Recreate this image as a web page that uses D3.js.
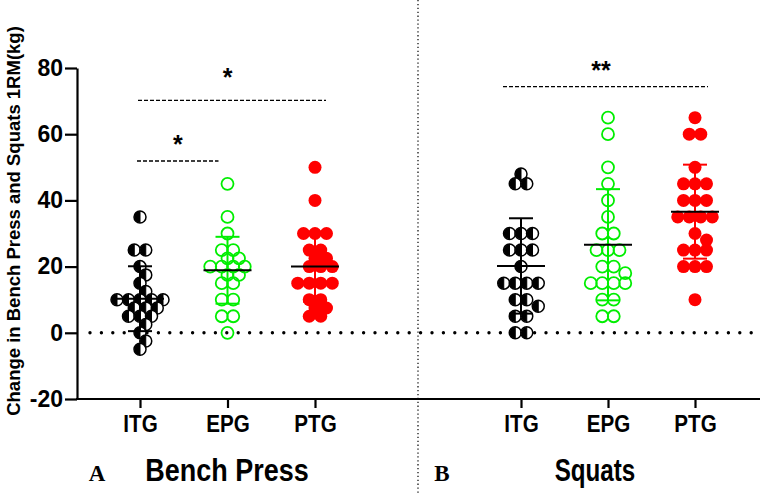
<!DOCTYPE html>
<html><head><meta charset="utf-8">
<script src="https://cdn.jsdelivr.net/npm/d3@7"></script>
<style>
body{margin:0;background:#fff}
svg{display:block}
text{font-family:"Liberation Sans",Arial,sans-serif;font-weight:bold;fill:#000}
</style>
</head><body>
<svg id="c" width="762" height="493"></svg>
<script>
// ---------- data ----------
const groups = ["ITG", "EPG", "PTG"];
const panels = ["Bench Press", "Squats"];
const panelLetters = ["A", "B"];
const yTicks = [-20, 0, 20, 40, 60, 80];
const yTitle = "Change in Bench Press and Squats 1RM(kg)";

const benchITG = [35, 25, 25, 20, 17.5, 15, 12.5, 10, 10, 10, 10, 10, 7.5, 7.5, 7.5, 5, 5, 5, 2.5, 0, -2.5, -5];
const benchEPG = [45, 35, 30, 25, 25, 22.5, 22.5, 20, 20, 20, 20, 17.5, 17.5, 15, 15, 10, 10, 5, 5, 0];
const benchPTG = [50, 40, 30, 30, 30, 25, 25, 22.5, 22.5, 20, 20, 20, 15, 15, 15, 15, 10, 10, 7.5, 7.5, 5, 5];
const squatITG = [48, 45, 45, 30, 30, 30, 25, 25, 25, 20, 15, 15, 15, 15, 10, 10, 8, 5, 5, 0, 0];
const squatEPG = [65, 60, 50, 45, 40, 35, 30, 30, 25, 25, 25, 20, 20, 18, 15, 15, 15, 15, 10, 10, 5, 5];
const squatPTG = [65, 60, 60, 50, 45, 45, 45, 40, 40, 40, 35, 35, 35, 35, 30, 28, 25, 25, 25, 20, 20, 20, 10];

const benchMean = [10.3, 18.9, 20.0];
const benchSD   = [9.8, 10.1, 10.6];
const squatMean = [20.2, 26.6, 36.6];
const squatSD   = [14.4, 16.8, 14.2];

// significance: panel, from, to, value (y of line), label
const sigPanel = [0, 0, 1];
const sigFrom  = ["ITG", "ITG", "ITG"];
const sigTo    = ["PTG", "EPG", "PTG"];
const sigValue = [70.2, 51.9, 74.4];
const sigLabel = ["*", "*", "**"];

// ---------- layout ----------
const svg = d3.select("#c");
const colors = {ITG: "#000", EPG: "#00ee00", PTG: "#ff0000"};
const y = d3.scaleLinear().domain([-20, 80]).range([399, 68]);
const xScales = [
  d3.scalePoint().domain(groups).range([140, 315]),
  d3.scalePoint().domain(groups).range([521, 695])
];
const axisX = 77, R = 6;

// vertical dotted divider
svg.append("line").attr("x1", 418).attr("x2", 418).attr("y1", 0).attr("y2", 493)
  .attr("stroke", "#000").attr("stroke-width", 1.2).attr("stroke-dasharray", "1.3,2.6");

// zero dotted line
svg.append("line").attr("x1", 90).attr("x2", 758).attr("y1", y(0)).attr("y2", y(0))
  .attr("stroke", "#000").attr("stroke-width", 3.4).attr("stroke-linecap", "round")
  .attr("stroke-dasharray", "0,11.4");

// y axis
const yAxis = svg.append("g").attr("transform", `translate(${axisX},0)`)
  .call(d3.axisLeft(y).tickValues(yTicks).tickFormat(d => String(d)).tickSize(12).tickSizeOuter(0).tickPadding(2));
yAxis.select(".domain").attr("stroke-width", 2.2);
yAxis.selectAll(".tick line").attr("stroke-width", 2.2);
yAxis.selectAll(".tick text").style("font-size", "23px").style("font-family", "'Liberation Sans',Arial,sans-serif").style("font-weight", "bold");

// x axis line
svg.append("line").attr("x1", axisX - 1).attr("x2", 760).attr("y1", y(-20)).attr("y2", y(-20))
  .attr("stroke", "#000").attr("stroke-width", 2.2);
xScales.forEach(xs => {
  const g = svg.append("g").attr("transform", `translate(0,${y(-20)})`)
    .call(d3.axisBottom(xs).tickSize(9).tickSizeOuter(0).tickPadding(7));
  g.select(".domain").remove();
  g.selectAll(".tick line").attr("stroke-width", 2.2);
  g.selectAll(".tick text").style("font-size", "24px").style("font-family", "'Liberation Sans',Arial,sans-serif")
    .style("font-weight", "bold").attr("dy", "0.71em").attr("transform", "scale(0.86,1)");
});

// y title
svg.append("text").attr("transform", "translate(20,221) rotate(-90)")
  .attr("text-anchor", "middle").style("font-size", "18.5px").text(yTitle);

// panel names and letters
const panelNameX = [227, 595];
const letterX = [97, 442];
const panelScale = [0.87, 0.78];
panels.forEach((p, i) => {
  svg.append("text").attr("transform", `translate(${panelNameX[i]},481) scale(${panelScale[i]},1)`)
    .attr("text-anchor", "middle").style("font-size", "31px").text(p);
  svg.append("text").attr("transform", `translate(${letterX[i]},481)`)
    .attr("text-anchor", "middle").style("font-family", "'Liberation Serif','Times New Roman',serif")
    .style("font-size", "23px").text(panelLetters[i]);
});

// beeswarm placement
function swarm(vals, cx, step, minD) {
  const sorted = vals.slice().sort((a, b) => b - a);
  const ties = d3.groups(sorted, v => v);
  const placed = [];
  for (const [v, arr] of ties) {
    const n = arr.length, yy = y(v);
    const base = d3.range(n).map(i => (i - (n - 1) / 2) * step);
    let best = 0, bestScore = Infinity;
    for (const k of [0, 1, -1, 2, -2, 3, -3, 4, -4]) {
      const shift = k * step / 2;
      let ov = 0;
      for (const b of base) for (const p of placed) {
        const d = Math.hypot(p.x - (cx + b + shift), p.y - yy);
        if (d < minD) ov += (minD - d);
      }
      const score = ov * 10 + Math.abs(shift) * 0.01;
      if (score < bestScore) { bestScore = score; best = shift; }
    }
    base.forEach(b => placed.push({v, x: cx + b + best, y: yy}));
  }
  return placed;
}

const seriesData = [[benchITG, benchEPG, benchPTG], [squatITG, squatEPG, squatPTG]];
const means = [benchMean, squatMean], sds = [benchSD, squatSD];
const halfArc = d3.arc().innerRadius(0).outerRadius(R - 0.2).startAngle(Math.PI).endAngle(2 * Math.PI);

seriesData.forEach((set, pi) => {
  const xs = xScales[pi];
  set.forEach((vals, gi) => {
    const grp = groups[gi];
    const pts = swarm(vals, xs(grp), 11.5, 9);
    const g = svg.append("g");
    const pg = g.selectAll("g.pt").data(pts).join("g").attr("class", "pt")
      .attr("transform", d => `translate(${d.x},${d.y})`);
    if (grp === "ITG") {
      pg.append("circle").attr("r", R).attr("fill", "#fff").attr("stroke", "#000").attr("stroke-width", 1.5);
      pg.append("path").attr("d", halfArc).attr("fill", "#000");
      pg.append("line").attr("y1", -R).attr("y2", R).attr("stroke", "#000").attr("stroke-width", 1);
    } else if (grp === "EPG") {
      pg.append("circle").attr("r", R).attr("fill", "none").attr("stroke", colors.EPG).attr("stroke-width", 1.8);
    } else {
      pg.append("circle").attr("r", R + 0.5).attr("fill", colors.PTG).attr("stroke", "none");
    }
    // error bars
    const m = means[pi][gi], s = sds[pi][gi], cx = xs(grp), col = colors[grp];
    const eb = svg.append("g");
    eb.append("line").attr("x1", cx).attr("x2", cx).attr("y1", y(m - s)).attr("y2", y(m + s))
      .attr("stroke", col).attr("stroke-width", 2);
    [m - s, m + s].forEach(v => eb.append("line").attr("x1", cx - 12).attr("x2", cx + 12)
      .attr("y1", y(v)).attr("y2", y(v)).attr("stroke", col).attr("stroke-width", 2));
    eb.append("line").attr("x1", cx - 24).attr("x2", cx + 24).attr("y1", y(m)).attr("y2", y(m))
      .attr("stroke", "#000").attr("stroke-width", 2);
  });
});

// significance annotations
const sigPad = [[-2, 11], [-3, -9], [-18, 13]];
sigLabel.forEach((lab, i) => {
  const xs = xScales[sigPanel[i]];
  const x1 = xs(sigFrom[i]) + sigPad[i][0], x2 = xs(sigTo[i]) + sigPad[i][1];
  const yy = y(sigValue[i]);
  svg.append("line").attr("x1", x1).attr("x2", x2).attr("y1", yy).attr("y2", yy)
    .attr("stroke", "#000").attr("stroke-width", 1.3).attr("stroke-dasharray", "4,2");
  svg.append("text").attr("x", (xs(sigFrom[i]) + xs(sigTo[i])) / 2 - (i === 1 ? 6 : 0) - (i === 2 ? 7 : 0))
    .attr("y", yy - (i === 0 ? 14 : 8)).attr("text-anchor", "middle")
    .style("font-size", "25px").text(lab);
});
</script>
</body></html>
